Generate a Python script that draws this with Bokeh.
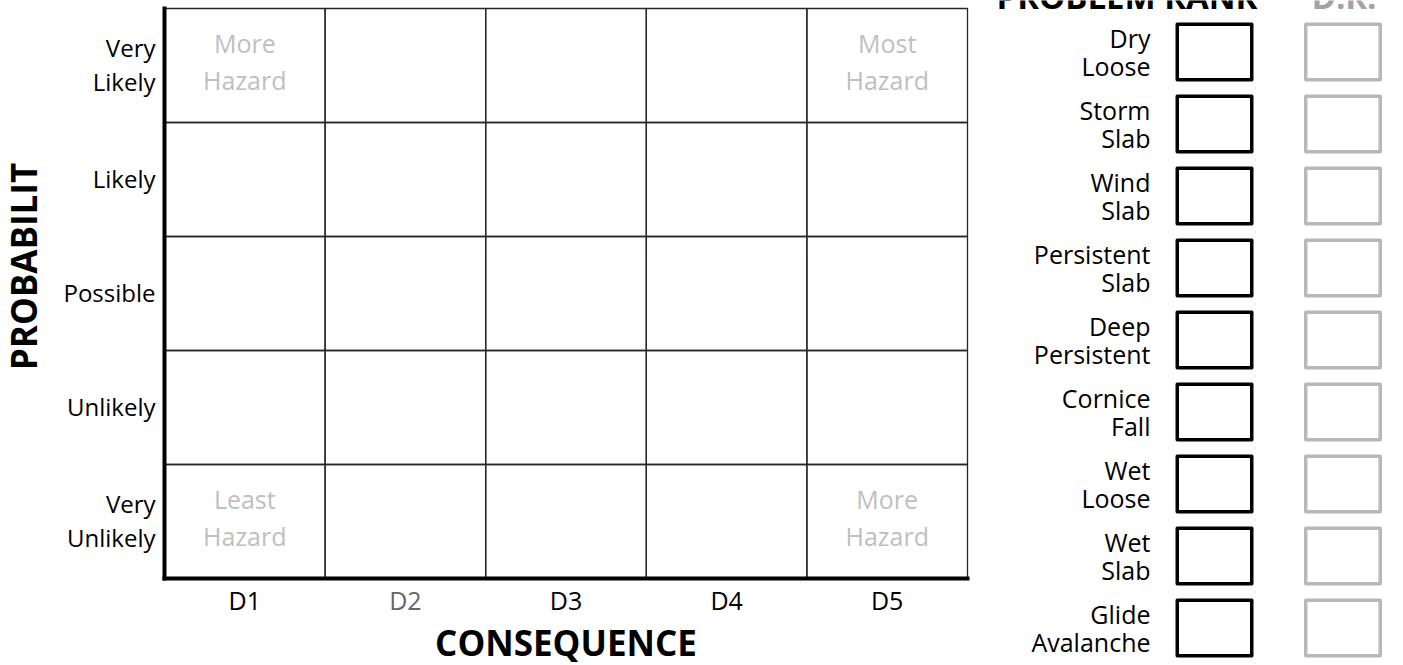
import math
from bokeh.plotting import figure
from bokeh.layouts import row
from bokeh.models import Range1d
from bokeh.core.properties import value
from bokeh.embed import file_html
from bokeh.resources import INLINE

# ---------------- data ----------------
consequence = ["D1", "D2", "D3", "D4", "D5"]
consequence_colors = ["black", "#666666", "black", "black", "black"]
probability = ["Very\nUnlikely", "Unlikely", "Possible", "Likely", "Very\nLikely"]  # bottom -> top
hazard_x = ["D1", "D5", "D1", "D5"]
hazard_y = ["Very\nLikely", "Very\nLikely", "Very\nUnlikely", "Very\nUnlikely"]
hazard_text = ["More\nHazard", "Most\nHazard", "Least\nHazard", "More\nHazard"]
problems = ["Dry\nLoose", "Storm\nSlab", "Wind\nSlab", "Persistent\nSlab", "Deep\nPersistent",
            "Cornice\nFall", "Wet\nLoose", "Wet\nSlab", "Glide\nAvalanche"]
columns = ["PROBLEM RANK", "D.R."]
column_box_colors = ["black", "#b8b8b8"]
column_title_colors = ["black", "#a3a3a3"]
x_title = "CONSEQUENCE"
y_title = "PROBABILIT"

FONT = "Open Sans"
GRAY_TXT = "#bfbfbf"

# ---------------- risk matrix (frame = whole canvas) ----------------
W1, H1 = 990, 665
LEFT, BOTTOM = 164.0, 578.0       # px position of the matrix origin
CW, RH = 160.6, 114.0             # px per column / row
nx, ny = len(consequence), len(probability)

p1 = figure(width=W1, height=H1,
            x_range=Range1d(-LEFT / CW, (W1 - LEFT) / CW),
            y_range=Range1d(-(H1 - BOTTOM) / RH, BOTTOM / RH),
            output_backend="svg", toolbar_location=None,
            min_border_left=0, min_border_right=0, min_border_top=0, min_border_bottom=0)
p1.axis.visible = False
p1.xgrid.visible = False
p1.ygrid.visible = False
p1.outline_line_color = None

xi = {c: i + 0.5 for i, c in enumerate(consequence)}
yi = {p: j + 0.5 for j, p in enumerate(probability)}

cx = [xi[c] for p in probability for c in consequence]
cy = [yi[p] for p in probability for c in consequence]
p1.rect(x=cx, y=cy, width=1, height=1, fill_color=None, line_color="#262626", line_width=1.3)

# axis lines
p1.segment(x0=[0, 0], y0=[0, 0], x1=[nx, 0], y1=[0, ny], line_color="black",
           line_width=4, line_cap="square")

# hazard annotations in the corner cells
p1.text(x=[xi[c] for c in hazard_x], y=[yi[p] for p in hazard_y], text=hazard_text,
        y_offset=-4, text_font=value(FONT), text_font_size="25px", text_color=GRAY_TXT,
        text_align="center", text_baseline="middle", text_line_height=1.09)

# probability labels
p1.text(x=[0] * ny, y=[yi[p] for p in probability], text=probability, x_offset=-9,
        y_offset=-1, text_font=value(FONT), text_font_size="24px", text_color="black",
        text_align="right", text_baseline="middle", text_line_height=1.03)

# consequence labels
p1.text(x=[xi[c] for c in consequence], y=[0] * nx, text=consequence, y_offset=21,
        text_font=value(FONT), text_font_size="25px", text_color=consequence_colors,
        text_align="center", text_baseline="middle")

# axis titles
p1.text(x=[nx / 2], y=[0], text=[x_title], y_offset=64, text_font=value(FONT),
        text_font_style="bold", text_font_size="35px", text_color="black",
        text_align="center", text_baseline="middle")
p1.text(x=[0], y=[ny / 2], text=[y_title], x_offset=-141, y_offset=-27, angle=math.pi / 2,
        text_font=value(FONT), text_font_style="bold", text_font_size="35px",
        text_color="black", text_align="center", text_baseline="middle")

# ---------------- problem list ----------------
PITCH = 72.0            # px between rows
FIRST = 51.5            # px, centre of first row from top
COLW = 128.5            # px between the two box columns
COL0 = 1214.0 - W1      # px, centre of first column inside the panel
W2, H2 = 413, 665

p2 = figure(width=W2, height=H2,
            x_range=Range1d(-COL0 / COLW, (W2 - COL0) / COLW),
            y_range=Range1d((H2 - FIRST) / PITCH, -FIRST / PITCH),
            output_backend="svg", toolbar_location=None,
            min_border_left=0, min_border_right=0, min_border_top=0, min_border_bottom=0)
p2.axis.visible = False
p2.xgrid.visible = False
p2.ygrid.visible = False
p2.outline_line_color = None

rows = list(range(len(problems)))
bx = [i for i in range(len(columns)) for _ in problems]
by = [r for _ in columns for r in rows]
bcol = [c for c in column_box_colors for _ in problems]
p2.rect(x=bx, y=by, width=74.5, height=55.5, width_units="screen", height_units="screen",
        fill_color=None, line_color=bcol, line_width=3.5, line_join="round")

p2.text(x=[0] * len(problems), y=rows, text=problems, x_offset=-64,
        text_align="right", text_baseline="middle", text_font=value(FONT),
        text_font_size="25px", text_color="black", text_line_height=0.83)

p2.text(x=[0, 1], y=[0, 0], text=columns, x_offset=[43, 1], y_offset=-56,
        text_align=["right", "center"], text_baseline="middle", text_font=value(FONT),
        text_font_style="bold", text_font_size="33px", text_color=column_title_colors)

layout = row(p1, p2)

open("out.html", "w").write(file_html(layout, INLINE))
